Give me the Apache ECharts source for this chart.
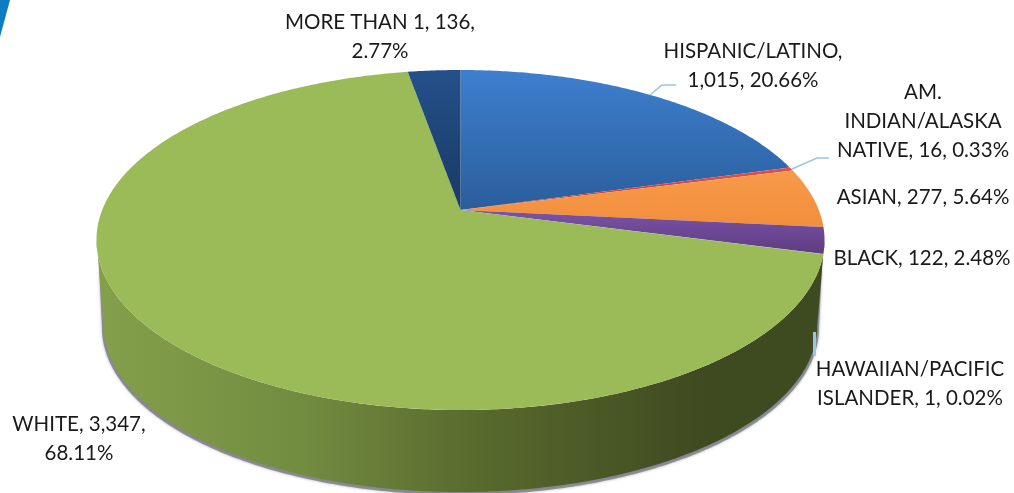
<!DOCTYPE html>
<html>
<head>
<meta charset="utf-8">
<style>html,body{margin:0;padding:0;background:#fff}#c{width:1014px;height:493px}</style>
<script src="https://cdn.jsdelivr.net/npm/echarts@6/dist/echarts.min.js"></script>
</head>
<body>
<div id="c"></div>
<script>
var categories = ['HISPANIC/LATINO','AM. INDIAN/ALASKA NATIVE','ASIAN','BLACK','HAWAIIAN/PACIFIC ISLANDER','WHITE','MORE THAN 1'];
var values = [1015,16,277,122,1,3347,136];
var labelTexts = [
  'HISPANIC/LATINO,\n1,015, 20.66%',
  'AM.\nINDIAN/ALASKA\nNATIVE, 16, 0.33%',
  'ASIAN, 277, 5.64%',
  'BLACK, 122, 2.48%',
  'HAWAIIAN/PACIFIC\nISLANDER, 1, 0.02%',
  'WHITE, 3,347,\n68.11%',
  'MORE THAN 1, 136,\n2.77%'
];
var labelAnchors = [[753,66],[923,121],[923,197],[922,258],[910,384],[79,439],[380,37]];
var sliceFills = [
  ['#3E7FCE','#2A5E9C'],['#E0524D','#C0392F'],['#F79A4A','#F28E3C'],['#7D52A8','#5C3D80'],
  ['#9DC3E6','#9DC3E6'],['#9BBB59','#9BBB59'],['#24508A','#193A63']
];
var leaderLines = [
  [[650,95],[662,85],[676,85]],
  [[792,169],[817,158],[829,158]],
  [[814.5,332],[814.5,356]]
];
var total = values.reduce(function(a,b){return a+b;},0);
var K = 60/340, A = 358.3, B = 140*(1+K), CX = 460.5, CY = 210;
function project(t, scale, dy, dx){
  var x = Math.sin(t), y = Math.cos(t), d = 1 + K*y;
  return [CX + (dx||0) + scale*A*x/d, CY + dy - scale*B*y/d];
}
function rim(t0, t1, scale, dy, dx){
  var pts = [], n = Math.max(2, Math.ceil(Math.abs(t1-t0)/0.01));
  for (var i=0;i<=n;i++) pts.push(project(t0+(t1-t0)*i/n, scale, dy, dx));
  return pts;
}
function vgrad(c){
  return {type:'linear',x:0,y:0,x2:0,y2:1,colorStops:[{offset:0,color:c[0]},{offset:1,color:c[1]}]};
}
function startAngle(i){
  var s=0; for(var j=0;j<i;j++) s+=values[j];
  return s/total*Math.PI*2;
}
var silT = Math.acos(-K);
var option = {
  backgroundColor:'#fff',
  animation:false,
  series:[
    {
      type:'custom', coordinateSystem:'none', silent:true, z:0,
      data:[0],
      renderItem:function(){
        var top = rim(silT, 2*Math.PI-silT, 0.995, 12, 0);
        var bot = rim(2*Math.PI-silT, silT, 0.985, 88, 0);
        return {type:'polygon',shape:{points:top.concat(bot)},style:{
          fill:'rgba(120,120,130,0.75)',shadowBlur:3,shadowColor:'rgba(120,120,130,0.8)'}};
      }
    },
    {
      type:'custom', coordinateSystem:'none', silent:true, z:1,
      data:[0],
      renderItem:function(){
        var top = rim(silT, 2*Math.PI-silT, 1, 0, 0);
        var bot = rim(2*Math.PI-silT, silT, 0.98, 86, 0);
        return {type:'polygon',shape:{points:top.concat(bot)},style:{
          fill:{type:'linear',x:0,y:0,x2:1,y2:0,colorStops:[
            {offset:0,color:'#85A04B'},{offset:0.28,color:'#728C40'},{offset:0.53,color:'#58692D'},
            {offset:0.83,color:'#3F4A20'},{offset:1,color:'#3E4A20'}]}}};
      }
    },
    {
      type:'custom', coordinateSystem:'none', silent:true, z:2,
      data:values,
      renderItem:function(params){
        var i = params.dataIndex;
        var t0 = startAngle(i), t1 = t0 + values[i]/total*Math.PI*2;
        var pts = [project(0,0,0)].concat(rim(t0,t1,1,0,0));
        return {type:'polygon',shape:{points:pts},style:{fill:vgrad(sliceFills[i])}};
      }
    },
    {
      type:'custom', coordinateSystem:'none', silent:true, z:3,
      data:leaderLines,
      renderItem:function(params){
        var isVert = params.dataIndex===2;
        return {type:'polyline',shape:{points:leaderLines[params.dataIndex]},
          style:{fill:null,stroke:'#9DC3E6',lineWidth:isVert?3:1.6}};
      }
    },
    {
      type:'custom', coordinateSystem:'none', silent:true, z:4,
      data:labelTexts,
      renderItem:function(params){
        var p = labelAnchors[params.dataIndex];
        return {type:'text',x:p[0],y:p[1],style:{
          text:labelTexts[params.dataIndex],align:'center',verticalAlign:'middle',
          font:'20.5px Lato',lineHeight:29,fill:'#1a1a1a'}};
      }
    }
  ],
  graphic:[{type:'polygon',shape:{points:[[0,0],[10,0],[0,37]]},style:{fill:'#0E7CC0'},silent:true}]
};
var chart = echarts.init(document.getElementById('c'),null,{renderer:'canvas'});
chart.setOption(option);
</script>
</body>
</html>
